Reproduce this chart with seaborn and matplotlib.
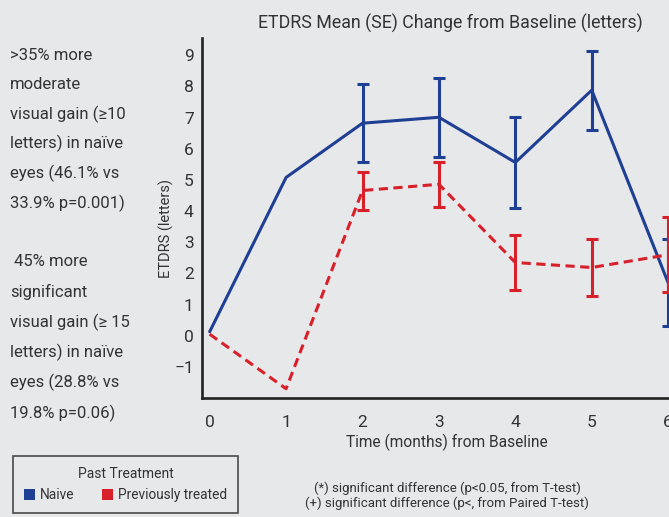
import pandas as pd
import matplotlib.pyplot as plt
import seaborn as sns
from matplotlib.patches import Patch

# values
months = [0, 1, 2, 3, 4, 5, 6]
naive_mean = [0.13, 5.08, 6.82, 7.01, 5.56, 7.88, 1.7]
naive_se = [0.0, 0.0, 1.25, 1.27, 1.46, 1.27, 1.4]
prev_mean = [0.05, -1.70, 4.66, 4.86, 2.35, 2.19, 2.6]
prev_se = [0.0, 0.0, 0.61, 0.72, 0.87, 0.92, 1.2]
groups = ["Naive", "Previously treated"]
yticks = list(range(-1, 10))

side_note_1 = [">35% more", "moderate", "visual gain (\u226510",
               "letters) in na\u00efve", "eyes (46.1% vs", "33.9% p=0.001)"]
side_note_2 = [" 45% more", "significant", "visual gain (\u2265 15",
               "letters) in na\u00efve", "eyes (28.8% vs", "19.8% p=0.06)"]
footnotes = ["(*) significant difference (p<0.05, from T-test)",
             "(+) significant difference (p<, from Paired T-test)"]

BLUE = "#1f3f94"
RED = "#d7202a"
BG = "#e7e8ea"
TXT = "#333333"


def main():
    df = pd.DataFrame({
        "month": months * 2,
        "mean": naive_mean + prev_mean,
        "se": naive_se + prev_se,
        "group": [groups[0]] * len(months) + [groups[1]] * len(months),
    })

    sns.set_style("white")
    plt.rcParams["font.family"] = ["Roboto", "DejaVu Sans"]
    plt.rcParams["text.color"] = TXT

    fig = plt.figure(figsize=(6.69, 5.17), dpi=100, facecolor=BG)
    ax = fig.add_axes([0.302, 0.230, 0.731, 0.6963])
    ax.set_facecolor(BG)

    palette = {groups[0]: BLUE, groups[1]: RED}
    sns.lineplot(data=df, x="month", y="mean", hue="group", style="group",
                 palette=palette, dashes={groups[0]: "", groups[1]: (3, 1.8)},
                 linewidth=2.2, legend=False, ax=ax)

    for g in groups:
        sub = df[(df["group"] == g) & (df["se"] > 0)]
        ax.errorbar(sub["month"], sub["mean"], yerr=sub["se"], fmt="none",
                    ecolor=palette[g], elinewidth=2.2, capsize=4.3, capthick=2.2)

    ax.set_xlim(-0.1, 6.3)
    ax.set_ylim(-2.0, 9.55)
    ax.set_xticks(months)
    ax.set_yticks(yticks)
    ax.tick_params(length=0, labelsize=12.5, colors=TXT)
    ax.tick_params(axis="x", pad=12)
    ax.tick_params(axis="y", pad=6)
    sns.despine(ax=ax)
    for s in ["left", "bottom"]:
        ax.spines[s].set_linewidth(1.9)
        ax.spines[s].set_color("#222222")

    ax.set_xlabel("Time (months) from Baseline", fontsize=11.2, color=TXT, labelpad=3)
    ax.set_ylabel("ETDRS (letters)", fontsize=10.5, color=TXT)
    ax.yaxis.set_label_coords(-0.058, 0.47)
    fig.text(450 / 669, 1 - 23 / 517, "ETDRS Mean (SE) Change from Baseline (letters)",
             ha="center", va="center", fontsize=12.8, color=TXT)

    # left side notes
    for i, line in enumerate(side_note_1):
        fig.text(10 / 669, 1 - (55 + i * 29.6) / 517, line, ha="left", va="center",
                 fontsize=12, color=TXT)
    for i, line in enumerate(side_note_2):
        fig.text(10 / 669, 1 - (262 + i * 30.2) / 517, line, ha="left", va="center",
                 fontsize=12, color=TXT)

    # footnotes
    for i, line in enumerate(footnotes):
        fig.text(447 / 669, 1 - (488 + i * 15.5) / 517, line, ha="center", va="center",
                 fontsize=9.5, color=TXT)

    handles = [Patch(facecolor=palette[g], edgecolor="none", label=g) for g in groups]
    leg = fig.legend(handles=handles, title="Past Treatment", ncol=2,
                     loc="lower left", mode="expand",
                     bbox_to_anchor=(13 / 669, 4 / 517, 225 / 669, 56 / 517),
                     frameon=True, fancybox=False, fontsize=9.8, title_fontsize=10,
                     handlelength=0.8, handleheight=0.8, handletextpad=0.4,
                     columnspacing=1.2, borderpad=0.8, labelspacing=0.5,
                     borderaxespad=0)
    leg.get_frame().set_edgecolor("#222222")
    leg.get_frame().set_linewidth(1.2)
    leg.get_frame().set_facecolor(BG)
    leg.get_title().set_color(TXT)

    fig.savefig("out.png", dpi=100, facecolor=BG)


if __name__ == "__main__":
    main()
